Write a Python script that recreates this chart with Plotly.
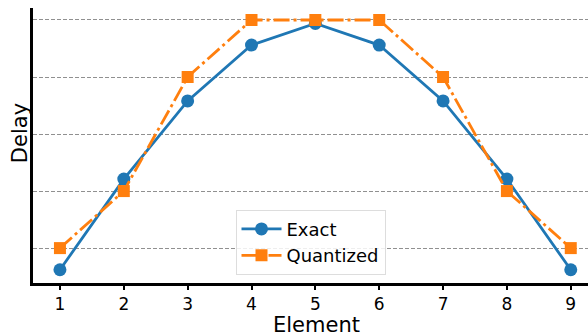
import plotly.graph_objects as go

elements = [1, 2, 3, 4, 5, 6, 7, 8, 9]
exact = [0.62, 2.21, 3.58, 4.56, 4.94, 4.56, 3.58, 2.21, 0.62]
quantized = [1, 2, 4, 5, 5, 5, 4, 2, 1]
x_ticks = [1, 2, 3, 4, 5, 6, 7, 8, 9]
grid_levels = [1, 2, 3, 4, 5]

fig = go.Figure()
fig.add_trace(go.Scatter(x=elements, y=exact, name="Exact", mode="lines+markers",
                         line=dict(color="#1f77b4", width=2.8),
                         marker=dict(symbol="circle", size=13, color="#1f77b4")))
fig.add_trace(go.Scatter(x=elements, y=quantized, name="Quantized", mode="lines+markers",
                         line=dict(color="#ff7f0e", width=2.8, dash="16px,4px,3px,4px"),
                         marker=dict(symbol="square", size=12, color="#ff7f0e")))

fig.update_layout(
    width=588, height=336,
    margin=dict(l=33, r=0, t=8, b=53),
    paper_bgcolor="white", plot_bgcolor="white",
    font=dict(family="DejaVu Sans", size=18, color="black"),
    xaxis=dict(range=[0.578, 9.27], tickvals=x_ticks, showgrid=False,
               showline=True, linecolor="black", linewidth=2.5,
               ticks="outside", ticklen=4, tickwidth=1.5, tickcolor="black",
               tickfont=dict(size=17), zeroline=False),
    yaxis=dict(range=[0.388, 5.21], tickvals=grid_levels, showticklabels=False,
               showgrid=True, gridcolor="#909090", griddash="4px,2px", gridwidth=1,
               showline=True, linecolor="black", linewidth=2.5,
               zeroline=False),
    legend=dict(x=0.5, xanchor="center", y=0.03, yanchor="bottom",
                bgcolor="rgba(255,255,255,0.85)", bordercolor="#dddddd", borderwidth=1,
                font=dict(size=18), itemwidth=40),
    annotations=[
        dict(text="Element", xref="paper", yref="paper", x=0.51, xanchor="center",
             y=-0.153, yanchor="middle", showarrow=False, font=dict(size=21)),
        dict(text="Delay", xref="paper", yref="paper", x=-0.0234, xanchor="center",
             y=0.545, yanchor="middle", showarrow=False, textangle=-90, font=dict(size=21)),
    ],
    showlegend=True,
)

fig.write_html("out.html")
